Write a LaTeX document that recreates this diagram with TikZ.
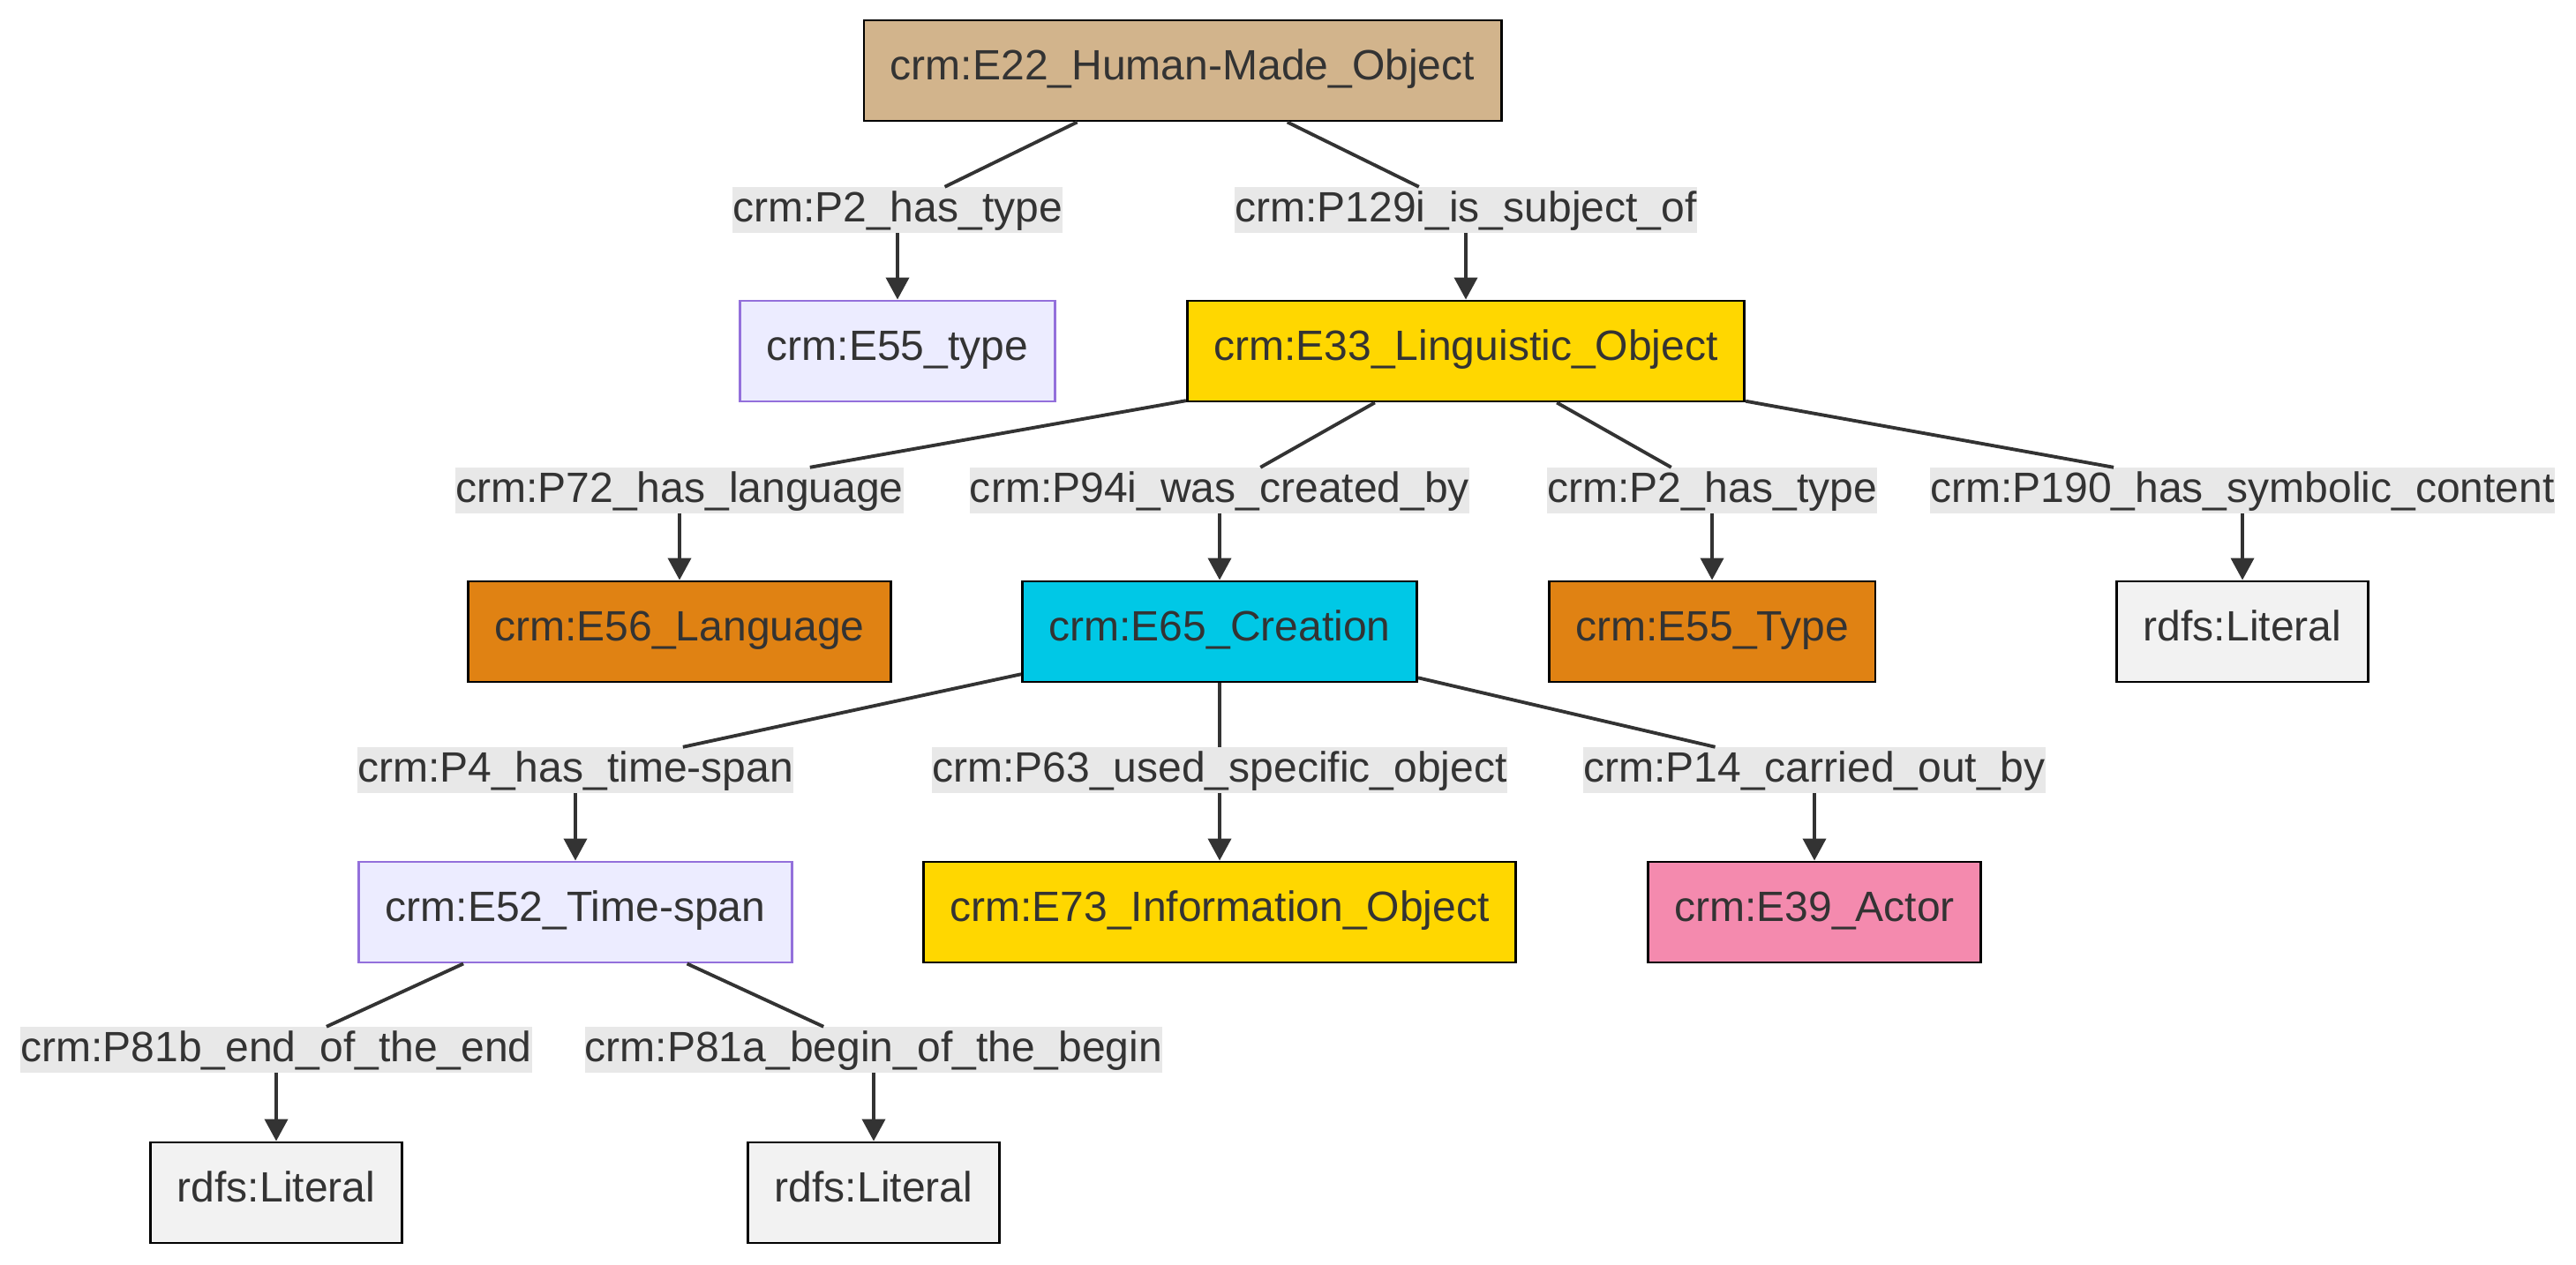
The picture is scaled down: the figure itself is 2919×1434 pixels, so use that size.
\documentclass[tikz,border=0pt]{standalone}
\usepackage{fontspec}
\setmainfont{Liberation Sans}
\usetikzlibrary{arrows.meta}
\definecolor{txtgray}{HTML}{333333}
\definecolor{lblgray}{HTML}{E8E8E8}
\definecolor{tanfill}{HTML}{D2B48C}
\definecolor{lavfill}{HTML}{ECECFF}
\definecolor{lavline}{HTML}{9370DB}
\definecolor{goldfill}{HTML}{FFD700}
\definecolor{orangefill}{HTML}{E08213}
\definecolor{cyanfill}{HTML}{00C8E6}
\definecolor{pinkfill}{HTML}{F48AAE}
\definecolor{litfill}{HTML}{F2F2F2}
\tikzset{
	cls/.style={draw=black, line width=0.8pt, text=txtgray, inner xsep=0.3cm, inner ysep=0pt,
		minimum height=1.14cm, text height=0.36cm, text depth=0.144cm,
		font=\fontsize{13.66}{16}\selectfont},
	lavbox/.style={cls, draw=lavline, fill=lavfill},
	prop/.style={fill=lblgray, text=txtgray, inner sep=0pt, text height=0.39cm, text depth=0.12cm,
		font=\fontsize{13.66}{16}\selectfont},
	link/.style={draw=txtgray, line width=1.1pt},
	arr/.style={link, -{Triangle[length=0.25cm,width=0.26cm]}}
}

\begin{document}
\begin{tikzpicture}[x=0.01cm, y=-0.01cm]
			%%%%% START %%%%%
			\useasboundingbox (0, 0) rectangle (2919, 1434);
			
			\node[cls, fill=tanfill] (e22) at (1340, 80) {crm:E22\_Human-Made\_Object};
			
			\node[lavbox] (e55a) at (1017, 398) {crm:E55\_type};
			\node[cls, fill=goldfill] (e33) at (1661, 398) {crm:E33\_Linguistic\_Object};
			
			\node[cls, fill=orangefill] (e56) at (770, 716) {crm:E56\_Language};
			\node[cls, fill=cyanfill] (e65) at (1382, 716) {crm:E65\_Creation};
			\node[cls, fill=orangefill] (e55b) at (1940, 716) {crm:E55\_Type};
			\node[cls, fill=litfill] (lit1) at (2541, 716) {rdfs:Literal};
			
			\node[lavbox] (e52) at (652, 1034) {crm:E52\_Time-span};
			\node[cls, fill=goldfill] (e73) at (1382, 1034) {crm:E73\_Information\_Object};
			\node[cls, fill=pinkfill] (e39) at (2056, 1034) {crm:E39\_Actor};
			
			\node[cls, fill=litfill] (lit2) at (313, 1352) {rdfs:Literal};
			\node[cls, fill=litfill] (lit3) at (990, 1352) {rdfs:Literal};
			
			% property labels
			\node[prop] (p2a) at (1017, 238) {crm:P2\_has\_type};
			\node[prop] (p129i) at (1661, 238) {crm:P129i\_is\_subject\_of};
			\node[prop] (p72) at (770, 556) {crm:P72\_has\_language};
			\node[prop] (p94i) at (1382, 556) {crm:P94i\_was\_created\_by};
			\node[prop] (p2b) at (1940, 556) {crm:P2\_has\_type};
			\node[prop] (p190) at (2541, 556) {crm:P190\_has\_symbolic\_content};
			\node[prop] (p4) at (652, 873) {crm:P4\_has\_time-span};
			\node[prop] (p63) at (1382, 873) {crm:P63\_used\_specific\_object};
			\node[prop] (p14) at (2056, 873) {crm:P14\_carried\_out\_by};
			\node[prop] (p81b) at (313, 1190) {crm:P81b\_end\_of\_the\_end};
			\node[prop] (p81a) at (990, 1190) {crm:P81a\_begin\_of\_the\_begin};
			
			\draw[link] (e22) -- (p2a);
			\draw[arr] (p2a) -- (e55a);
			\draw[link] (e22) -- (p129i);
			\draw[arr] (p129i) -- (e33);
			
			\draw[link] (e33) -- (p72);
			\draw[arr] (p72) -- (e56);
			\draw[link] (e33) -- (p94i);
			\draw[arr] (p94i) -- (e65);
			\draw[link] (e33) -- (p2b);
			\draw[arr] (p2b) -- (e55b);
			\draw[link] (e33) -- (p190);
			\draw[arr] (p190) -- (lit1);
			
			\draw[link] (e65) -- (p4);
			\draw[arr] (p4) -- (e52);
			\draw[link] (e65) -- (p63);
			\draw[arr] (p63) -- (e73);
			\draw[link] (e65) -- (p14);
			\draw[arr] (p14) -- (e39);
			
			\draw[link] (e52) -- (p81b);
			\draw[arr] (p81b) -- (lit2);
			\draw[link] (e52) -- (p81a);
			\draw[arr] (p81a) -- (lit3);
			
			%%%%% END %%%%%
\end{tikzpicture}
\end{document}
